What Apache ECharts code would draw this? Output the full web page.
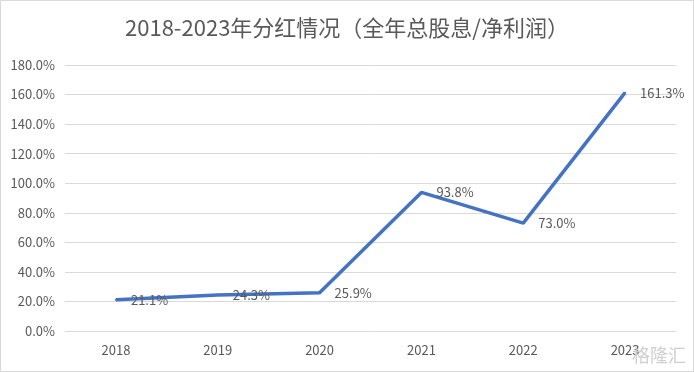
<!DOCTYPE html>
<html><head><meta charset="utf-8">
<script src="https://cdn.jsdelivr.net/npm/echarts@6/dist/echarts.min.js"></script>
<style>html,body{margin:0;padding:0;background:#fff}#c{width:694px;height:372px}</style>
</head><body><div id="c"></div>
<script>
const categories = ['2018','2019','2020','2021','2022','2023'];
const payoutRatio = [21.1, 24.3, 25.9, 93.8, 73.0, 161.3];
const yTicks = [0, 20, 40, 60, 80, 100, 120, 140, 160, 180];
const FONT = '"Noto Sans CJK SC", "Microsoft YaHei", sans-serif';
const chart = echarts.init(document.getElementById('c'));
chart.setOption({
  animation: false,
  backgroundColor: '#fff',
  title: {
    text: '2018-2023年分红情况（全年总股息/净利润）',
    left: 'center', top: 12,
    textStyle: {fontFamily: FONT, fontSize: 22, fontWeight: 'normal', color: '#595959'}
  },
  grid: {left: 65, right: 18, top: 65, bottom: 41},
  xAxis: {
    type: 'category', data: categories, boundaryGap: true,
    axisLine: {show: false}, axisTick: {show: false},
    axisLabel: {fontFamily: FONT, fontSize: 13, color: '#595959', margin: 13}
  },
  yAxis: {
    type: 'value', min: yTicks[0], max: yTicks[yTicks.length-1], interval: 20,
    axisLine: {show: false}, axisTick: {show: false},
    axisLabel: {fontFamily: FONT, fontSize: 13, color: '#595959', margin: 10,
      formatter: v => v.toFixed(1) + '%'},
    splitLine: {lineStyle: {color: '#d9d9d9', width: 1}}
  },
  series: [{
    type: 'line', data: payoutRatio, symbol: 'circle', symbolSize: 2, showSymbol: true,
    itemStyle: {color: '#4472C4'},
    lineStyle: {color: '#4472C4', width: 3.5},
    label: {show: true, position: 'right', distance: 14,
      fontFamily: FONT, fontSize: 13, color: '#595959',
      formatter: p => p.value.toFixed(1) + '%'},
    labelLayout: {hideOverlap: false}
  }],
  graphic: [
    {type: 'rect', shape: {x: 0.5, y: 0.5, width: 693, height: 371},
     style: {fill: 'none', stroke: '#d9d9d9', lineWidth: 1}, z: 100},
    {type: 'text', right: 8, bottom: 8,
     style: {text: '格隆汇', fill: '#cfcfcf', font: '18px ' + FONT}, z: 100}
  ]
});
</script></body></html>
